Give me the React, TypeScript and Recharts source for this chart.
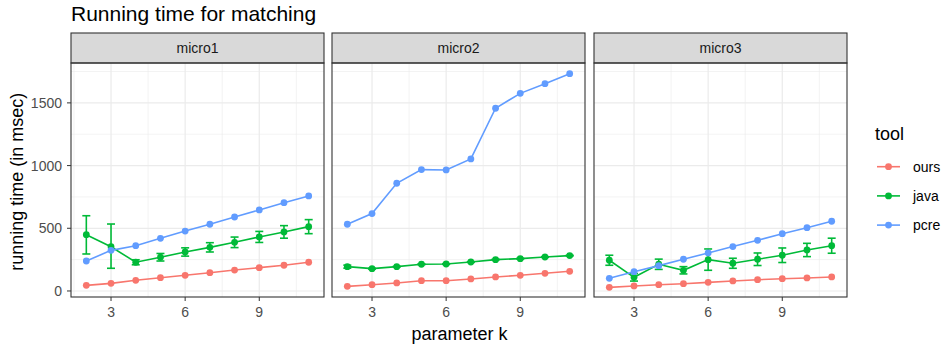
// @ts-nocheck
import { CartesianGrid, ErrorBar, Line, LineChart, XAxis, YAxis } from 'recharts';

const ks = [2, 3, 4, 5, 6, 7, 8, 9, 10, 11];
const panels = ['micro1', 'micro2', 'micro3'];
const tools = ['ours', 'java', 'pcre'];

// micro1
const ours1 = [45, 61, 85, 106, 125, 146, 167, 186, 205, 229];
const java1 = [449, 353, 229, 269, 311, 348, 388, 431, 471, 513];
const java1Err = [[154, 151], [172, 181], [20, 20], [30, 30], [33, 33], [37, 37], [42, 42], [44, 44], [50, 50], [56, 56]];
const pcre1 = [239, 324, 361, 420, 478, 532, 590, 646, 704, 758];

// micro2
const ours2 = [37, 50, 64, 82, 82, 96, 112, 125, 141, 157];
const java2 = [194, 178, 194, 213, 215, 231, 250, 258, 271, 282];
const java2Err = [12, 3, 3, 3, 3, 3, 3, 3, 3, 3];
const pcre2 = [532, 617, 859, 968, 965, 1053, 1457, 1576, 1653, 1733];

// micro3
const ours3 = [29, 40, 50, 58, 69, 80, 90, 98, 104, 112];
const java3 = [245, 109, 213, 165, 250, 221, 253, 285, 327, 361];
const java3Err = [40, 30, 41, 29, 85, 40, 50, 58, 53, 60];
const pcre3 = [101, 154, 202, 253, 303, 354, 404, 457, 505, 556];

const xTicks = [3, 6, 9];
const xMinor = [1.5, 4.5, 7.5, 10.5];
const yTicks = [0, 500, 1000, 1500];
const yMinor = [250, 750, 1250, 1750];

const COLORS = { ours: '#F8766D', java: '#00BA38', pcre: '#619CFF' };

function rows(ours, java, javaErr, pcre) {
  return ks.map((k, i) => ({ k, ours: ours[i], java: java[i], javaErr: javaErr[i], pcre: pcre[i] }));
}

const panelData = [
  rows(ours1, java1, java1Err, pcre1),
  rows(ours2, java2, java2Err, pcre2),
  rows(ours3, java3, java3Err, pcre3),
];

const PLOT_TOP = 63;
const PLOT_H = 234;
const PLOT_W = 253;
const LEFTS = [71, 332, 594];
const Y_AXIS_W = 40;
const tickStyle = { fontSize: 14, fill: '#4d4d4d' };

function Panel({ data, index }) {
  const showY = index === 0;
  const left = LEFTS[index] - (showY ? Y_AXIS_W : 0);
  return (
    <div style={{ position: 'absolute', left, top: PLOT_TOP }}>
      <LineChart width={PLOT_W + (showY ? Y_AXIS_W : 0)} height={PLOT_H + 30} data={data}
        margin={{ top: 0, right: 0, bottom: 0, left: 0 }}>
        <CartesianGrid stroke="#ebebeb" strokeWidth={0.6} horizontalValues={yMinor} verticalValues={xMinor}/>
        <CartesianGrid stroke="#ebebeb" strokeWidth={1.2} horizontalValues={yTicks} verticalValues={xTicks}/>
        <XAxis dataKey="k" type="number" domain={[1.38, 11.62]} allowDataOverflow ticks={xTicks}
          axisLine={false} tickSize={4} tickMargin={6} tickLine={{ stroke: '#333333' }} tick={tickStyle} height={30}/>
        <YAxis type="number" domain={[-48, 1818]} allowDataOverflow ticks={yTicks} hide={!showY}
          axisLine={false} tickSize={4} tickMargin={5} tickLine={{ stroke: '#333333' }} tick={tickStyle} width={Y_AXIS_W}/>
        {tools.map((t) => (
          <Line key={t} dataKey={t} stroke={COLORS[t]} strokeWidth={1.6} isAnimationActive={false}
            dot={{ r: 3.4, fill: COLORS[t], stroke: COLORS[t], strokeWidth: 0 }} activeDot={false}>
            {t === 'java' && (
              <ErrorBar dataKey="javaErr" direction="y" width={4} stroke={COLORS.java} strokeWidth={1.6}
                isAnimationActive={false}/>
            )}
          </Line>
        ))}
      </LineChart>
    </div>
  );
}

export default function App() {
  return (
    <div style={{ position: 'absolute', left: 0, top: 0, width: 945, height: 350, background: '#fff',
      fontFamily: '"Liberation Sans", Arial, Helvetica, sans-serif' }}>
      {panelData.map((d, i) => <Panel key={i} data={d} index={i}/>)}
      <svg width={945} height={350} style={{ position: 'absolute', left: 0, top: 0, pointerEvents: 'none' }}>
        <text x={71} y={21} fontSize={21} fill="#000">Running time for matching</text>
        {panels.map((p, i) => (
          <g key={p}>
            <rect x={LEFTS[i]} y={33} width={PLOT_W} height={30} fill="#d9d9d9" stroke="#333333" strokeWidth={1.1}/>
            <text x={LEFTS[i] + PLOT_W / 2} y={48} fontSize={14} fill="#1a1a1a" textAnchor="middle"
              dominantBaseline="central">{p}</text>
            <rect x={LEFTS[i]} y={PLOT_TOP} width={PLOT_W} height={PLOT_H} fill="none" stroke="#333333" strokeWidth={1.1}/>
          </g>
        ))}
        <text x={459.5} y={340} fontSize={18} textAnchor="middle" fill="#000">parameter k</text>
        <text transform="translate(22.5,181.8) rotate(-90)" fontSize={18} textAnchor="middle" fill="#000">
          running time (in msec)
        </text>
        <text x={875} y={140} fontSize={18} fill="#000">tool</text>
        {tools.map((t, i) => {
          const y = 166.7 + i * 29.2;
          return (
            <g key={t}>
              <line x1={877} x2={900} y1={y} y2={y} stroke={COLORS[t]} strokeWidth={1.6}/>
              <circle cx={888.5} cy={y} r={3.4} fill={COLORS[t]}/>
              <text x={913} y={y} fontSize={14} fill="#000" dominantBaseline="central">{t}</text>
            </g>
          );
        })}
      </svg>
    </div>
  );
}
